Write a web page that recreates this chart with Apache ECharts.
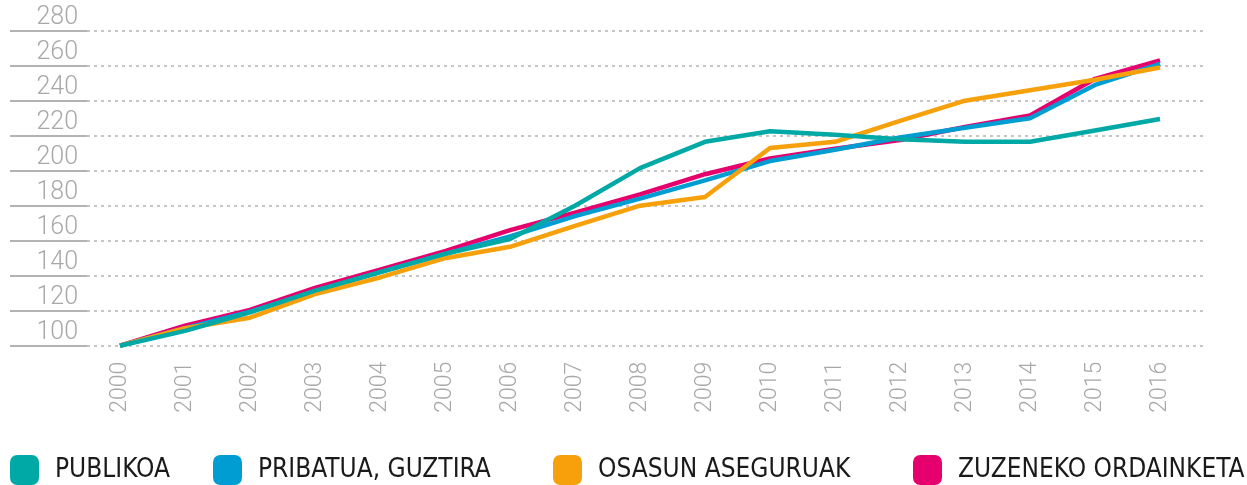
<!DOCTYPE html>
<html>
<head>
<meta charset="utf-8">
<script src="https://cdn.jsdelivr.net/npm/echarts@6/dist/echarts.min.js"></script>
<style>
  html, body { margin: 0; padding: 0; background: #fff; }
  #chart { width: 1247px; height: 485px; }
</style>
</head>
<body>
<div id="chart"></div>
<script>
// urteak (x ardatza)
const years = ['2000', '2001', '2002', '2003', '2004', '2005', '2006', '2007', '2008',
  '2009', '2010', '2011', '2012', '2013', '2014', '2015', '2016'];

// serieak
const publikoa = [100, 108.5, 119, 131.5, 142, 152.5, 161, 180, 201.5, 216.5, 222.5, 220.5, 218, 216.5, 216.5, 223, 229.5];
const pribatua = [100, 110, 119.5, 131, 142, 152.5, 162.5, 174, 184, 194.5, 205.5, 212, 219, 224.5, 230, 249, 261];
const osasun = [100, 110, 116, 129.5, 139, 150, 156.5, 168.5, 180, 185, 213, 216.5, 228.5, 240, 246, 252, 259];
const zuzeneko = [100, 111.5, 120.5, 133, 143.5, 154, 166, 176, 186.5, 198, 207, 212.5, 217.5, 225, 231.5, 252.5, 263];

const names = ['PUBLIKOA', 'PRIBATUA, GUZTIRA', 'OSASUN ASEGURUAK', 'ZUZENEKO ORDAINKETA'];
const colors = ['#00A9A5', '#009DD3', '#F6A10B', '#E5006E'];

// y ardatzaren tarteak
const yMin = 100;
const yMax = 280;
const yStep = 20;

const chart = echarts.init(document.getElementById('chart'));

const labelFont = { fontFamily: 'Roboto', fontWeight: 300, color: '#a8a8a8' };

const legendBase = {
  top: 455,
  padding: 0,
  itemWidth: 29,
  itemHeight: 30,
  icon: 'roundRect',
  selectedMode: false,
  textStyle: {
    fontFamily: 'DejaVu Sans Condensed',
    fontSize: 26,
    color: '#1a1a1a',
    padding: [0, 0, 0, 11]
  }
};
const legendLeft = [10, 213, 553, 913];

const option = {
  animation: false,
  color: colors,
  grid: [
    // datuak
    { left: 120, right: 87, top: 30.7, bottom: 139.3 },
    // sareta marrak
    { left: 87, right: 42, top: 30.7, bottom: 139.3 }
  ],
  legend: names.map((n, i) => Object.assign({}, legendBase, { left: legendLeft[i], data: [n] })),
  xAxis: [
    {
      type: 'category',
      gridIndex: 0,
      data: years,
      boundaryGap: false,
      axisLine: { show: false },
      axisTick: { show: false },
      axisLabel: Object.assign({ rotate: 90, margin: 16, interval: 0, fontSize: 23 }, labelFont),
      splitLine: { show: false }
    },
    { type: 'value', gridIndex: 1, show: false }
  ],
  yAxis: [
    { type: 'value', gridIndex: 0, min: yMin, max: yMax, interval: yStep, show: false },
    {
      type: 'value',
      gridIndex: 1,
      min: yMin,
      max: yMax,
      interval: yStep,
      axisLine: { show: false },
      axisTick: { show: true, inside: false, length: 77, lineStyle: { color: '#b3b3b3', width: 2 } },
      axisLabel: Object.assign({ margin: 9, verticalAlign: 'bottom', fontSize: 25 }, labelFont),
      splitLine: { show: true, lineStyle: { color: '#b3b3b3', width: 1.5, type: [3, 4] } }
    }
  ],
  series: [
    { name: names[0], data: publikoa, z: 6 },
    { name: names[1], data: pribatua, z: 4 },
    { name: names[2], data: osasun, z: 5 },
    { name: names[3], data: zuzeneko, z: 3 }
  ].map((s, i) => Object.assign({
    type: 'line',
    xAxisIndex: 0,
    yAxisIndex: 0,
    symbol: 'none',
    lineStyle: { width: 4.5, color: colors[i] },
    itemStyle: { color: colors[i] }
  }, s))
};

chart.setOption(option);
window.onresize = () => {
  chart.resize();
};
</script>
</body>
</html>
